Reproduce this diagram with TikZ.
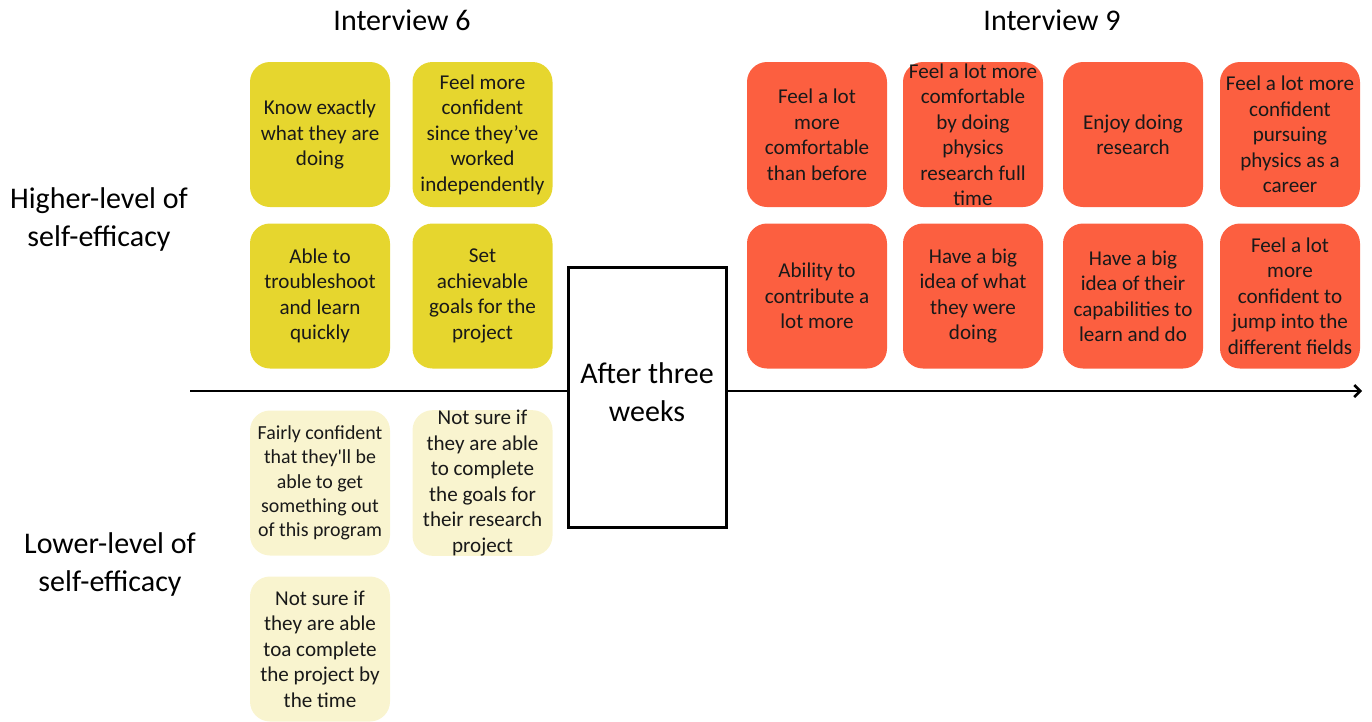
\documentclass[tikz,border=0pt]{standalone}
\usepackage{fontspec}
\setmainfont{Carlito}
\usetikzlibrary{arrows.meta}
\definecolor{goodsix}{HTML}{E6D62E}
\definecolor{lowsix}{HTML}{F9F4CF}
\definecolor{goodnine}{HTML}{FC5F40}
\begin{document}
\begin{tikzpicture}[x=1pt, y=-1pt, >={Straight Barb[length=6pt,width=12pt]}]
        \tikzset{
  card/.style={
    rectangle,
    rounded corners=20pt,
    draw=none,
    minimum width=140pt,
    minimum height=145pt,
    inner sep=0pt,
    align=center,
    text=black!90,
    font=\fontsize{21.1}{25.5}\selectfont
  },
  small card/.style={
    card,
    font=\fontsize{19.9}{24.3}\selectfont
  },
  heading/.style={
    align=center,
    font=\fontsize{30}{38}\selectfont
  }
}
\useasboundingbox (0,0) rectangle (1372,721);

\node [heading] (title-6) at (402,20) {Interview 6};
\node [heading] (title-9) at (1052,20) {Interview 9};
\node [heading] (label-high) at (99,219) {Higher-level of\\self-efficacy};
\node [heading] (label-low) at (110,564) {Lower-level of\\self-efficacy};

% interview 6, higher level
\foreach \t [count=\i] in {{Know exactly\\what they are\\doing},
    {Feel more\\confident\\since they’ve\\worked\\independently},
    {Able to\\troubleshoot\\and learn\\quickly},
    {Set\\achievable\\goals for the\\project}}
  \node [card, fill=goodsix] (six-\i) at ({320+162.5*mod(\i-1,2)},{134.5+161.5*int((\i-1)/2)}) {\t};

% interview 6, lower level
\node [small card, fill=lowsix] (low-1) at (320,483) {Fairly confident\\that they\textquotesingle ll be\\able to get\\something out\\of this program};
\node [card, fill=lowsix] (low-2) at (482.5,483) {Not sure if\\they are able\\to complete\\the goals for\\their research\\project};
\node [card, fill=lowsix] (low-3) at (320,649) {Not sure if\\they are able\\toa complete\\the project by\\the time};

% interview 9
\foreach \t/\x [count=\i] in {{Feel a lot\\more\\comfortable\\than before}/817,
    {Feel a lot more\\comfortable\\by doing\\physics\\research full\\time}/973,
    {Enjoy doing\\research}/1133,
    {Feel a lot more\\confident\\pursuing\\physics as a\\career}/1290}
  \node [card, fill=goodnine] (nine-\i) at (\x,134.5) {\t};

\foreach \t/\x [count=\i from 5] in {{Ability to\\contribute a\\lot more}/817,
    {Have a big\\idea of what\\they were\\doing}/973,
    {Have a big\\idea of their\\capabilities to\\learn and do}/1133,
    {Feel a lot\\more\\confident to\\jump into the\\different fields}/1290}
  \node [card, fill=goodnine] (nine-\i) at (\x,296) {\t};

\coordinate (axis-start) at (190,391);
\coordinate (axis-end) at (1362,391);
\node [draw, line width=3pt, fill=white, minimum width=158pt, minimum height=260pt,
  inner sep=0pt] (gap) at (647,397) {};
\node [heading] (gap-text) at (647,392) {After three\\weeks};

\draw [line width=2.5pt] (axis-start) -- (axis-start -| gap.west);
\draw [->, line width=2.5pt] (axis-end -| gap.east) -- (axis-end);
      \end{tikzpicture}
\end{document}
